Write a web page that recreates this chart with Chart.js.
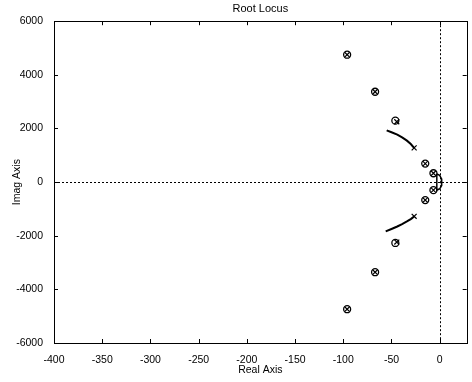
<!DOCTYPE html>
<html>
<head>
<meta charset="utf-8">
<script src="https://cdn.jsdelivr.net/npm/chart.js@4/dist/chart.umd.min.js"></script>
<style>
  html, body { margin: 0; padding: 0; background: #fff; }
  #wrap { width: 472px; height: 382px; }
</style>
</head>
<body>
<div id="wrap"><canvas id="locus"></canvas></div>
<script>
// axes
const xTicks = [-400, -350, -300, -250, -200, -150, -100, -50, 0];
const yTicks = [-6000, -4000, -2000, 0, 2000, 4000, 6000];
const xMin = -400, xMax = 28;
const yMin = -6000, yMax = 6000;

// zeros (o)
const zeroRe = [-96, -67, -46, -15, -6.5, -6.5, -15, -46, -67, -96];
const zeroIm = [4750, 3370, 2290, 690, 330, -300, -670, -2270, -3360, -4740];

// poles (x)
const poleRe = [-96, -67, -44.5, -15, -6.5, -6.5, -15, -44.5, -67, -96, -26.5, -26.5];
const poleIm = [4750, 3370, 2250, 690, 330, -300, -670, -2235, -3360, -4740, 1275, -1275];

// locus branches
const upperRe = [-55, -50, -44, -39, -34, -30, -26.5];
const upperIm = [1930, 1860, 1770, 1665, 1545, 1420, 1275];
const lowerRe = [-56, -50, -44, -39, -34, -30, -26.5];
const lowerIm = [-1840, -1750, -1655, -1565, -1468, -1380, -1280];
const loopRe = [-3, 0, 1.8, 2.3, 1.8, 0, -3, -3];
const loopIm = [300, 250, 130, 0, -130, -250, -300, 300];

const pts = (re, im) => re.map((r, i) => ({x: r, y: im[i]}));

// box, inward ticks and dotted zero lines like matlab
const framePlugin = {
    id: 'frame',
    beforeDatasetsDraw(chart) {
        const {ctx, chartArea: a, scales: {x, y}} = chart;
        ctx.save();
        ctx.strokeStyle = '#000';
        ctx.lineWidth = 1;
        ctx.setLineDash([2, 2]);
        const x0 = Math.round(x.getPixelForValue(0)) + 0.5;
        const y0 = Math.round(y.getPixelForValue(0)) + 0.5;
        ctx.beginPath();
        ctx.moveTo(a.left, y0); ctx.lineTo(a.right, y0);
        ctx.moveTo(x0, a.top); ctx.lineTo(x0, a.bottom);
        ctx.stroke();
        ctx.setLineDash([]);
        ctx.strokeRect(Math.round(a.left) + 0.5, Math.round(a.top) + 0.5,
            Math.round(a.right - a.left), Math.round(a.bottom - a.top));
        ctx.beginPath();
        xTicks.forEach(v => {
            const px = Math.round(x.getPixelForValue(v)) + 0.5;
            ctx.moveTo(px, a.bottom); ctx.lineTo(px, a.bottom - 4);
            ctx.moveTo(px, a.top); ctx.lineTo(px, a.top + 4);
        });
        yTicks.forEach(v => {
            const py = Math.round(y.getPixelForValue(v)) + 0.5;
            ctx.moveTo(a.left, py); ctx.lineTo(a.left + 4, py);
            ctx.moveTo(a.right, py); ctx.lineTo(a.right - 4, py);
        });
        ctx.stroke();
        ctx.restore();
    }
};

const tickFont = {family: 'Liberation Sans, Arial, sans-serif', size: 10.5};

new Chart(document.getElementById('locus'), {
    type: 'scatter',
    data: {
        datasets: [
            {data: pts(upperRe, upperIm), showLine: true, borderColor: '#000', borderWidth: 2, pointRadius: 0},
            {data: pts(lowerRe, lowerIm), showLine: true, borderColor: '#000', borderWidth: 2, pointRadius: 0},
            {data: pts(loopRe, loopIm), showLine: true, borderColor: '#000', borderWidth: 1.5, pointRadius: 0, tension: 0},
            {data: pts(zeroRe, zeroIm), pointStyle: 'circle', pointRadius: 3.5, borderColor: '#000',
             backgroundColor: 'rgba(0,0,0,0)', borderWidth: 1.3},
            {data: pts(poleRe, poleIm), pointStyle: 'crossRot', pointRadius: 3.5, borderColor: '#000', borderWidth: 1.2}
        ]
    },
    options: {
        responsive: true,
        maintainAspectRatio: false,
        animation: false,
        layout: {padding: {top: 0, right: 2, bottom: 0, left: 0}},
        plugins: {
            legend: {display: false},
            tooltip: {enabled: false},
            title: {
                display: true, text: 'Root Locus', fullSize: false, color: '#000',
                font: {family: 'Liberation Sans, Arial, sans-serif', size: 11, weight: 'normal', lineHeight: 1.2},
                padding: {top: 2, bottom: 6}
            }
        },
        scales: {
            x: {
                type: 'linear', min: xMin, max: xMax,
                afterFit: s => { s.height = 39; },
                afterBuildTicks: s => { s.ticks = xTicks.map(v => ({value: v})); },
                ticks: {color: '#000', font: tickFont, padding: 3, maxRotation: 0, autoSkip: false,
                        callback: v => String(v)},
                grid: {display: false},
                border: {display: false},
                title: {display: true, text: 'Real Axis', color: '#000', font: tickFont, padding: {top: 0, bottom: 6}}
            },
            y: {
                type: 'linear', min: yMin, max: yMax,
                afterFit: s => { s.width = 54; },
                afterBuildTicks: s => { s.ticks = yTicks.map(v => ({value: v})); },
                ticks: {color: '#000', font: tickFont, padding: 3, autoSkip: false,
                        callback: v => String(v)},
                grid: {display: false},
                border: {display: false},
                title: {display: true, text: 'Imag Axis', color: '#000', font: tickFont, padding: {top: 11, bottom: 0}}
            }
        }
    },
    plugins: [framePlugin]
});
</script>
</body>
</html>
